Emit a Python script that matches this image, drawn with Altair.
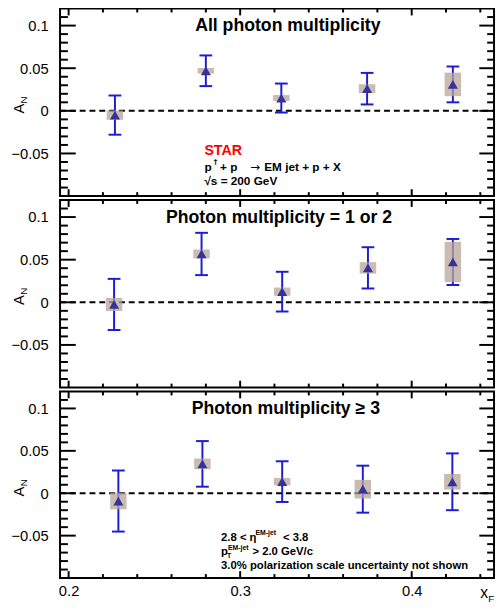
import altair as alt
import pandas as pd

# ---------------- data ----------------
PANEL_TITLES = ["All photon multiplicity", "Photon multiplicity = 1 or 2", "Photon multiplicity \u2265 3"]

XF = [
    [0.227, 0.280, 0.324, 0.374, 0.424],
    [0.2265, 0.2775, 0.3245, 0.3745, 0.424],
    [0.229, 0.278, 0.3245, 0.3715, 0.4237],
]
AN = [
    [-0.005, 0.047, 0.015, 0.026, 0.031],
    [-0.0025, 0.0567, 0.0125, 0.0404, 0.0473],
    [-0.0092, 0.0346, 0.0137, 0.0048, 0.0135],
]
STAT = [
    [0.023, 0.018, 0.017, 0.0185, 0.021],
    [0.030, 0.0248, 0.0233, 0.0242, 0.027],
    [0.036, 0.0269, 0.024, 0.0277, 0.0335],
]
SYS = [
    [0.0055, 0.0033, 0.0035, 0.0052, 0.0138],
    [0.0077, 0.0052, 0.0048, 0.0067, 0.0237],
    [0.0098, 0.0063, 0.0044, 0.011, 0.0092],
]

Y_MAJOR = [-0.05, 0.0, 0.05, 0.1]
Y_MINOR = [-0.09, -0.08, -0.07, -0.06, -0.04, -0.03, -0.02, -0.01,
           0.01, 0.02, 0.03, 0.04, 0.06, 0.07, 0.08, 0.09, 0.11]
X_MAJOR = [0.2, 0.3, 0.4]
X_MINOR = [0.22, 0.24, 0.26, 0.28, 0.32, 0.34, 0.36, 0.38, 0.42, 0.44]

# ---------------- layout / style ----------------
FONT = "Liberation Sans"
W = 442
HEIGHTS = [191, 191, 190]
XDOM = [0.195, 0.448]
YDOM = [-0.1, 0.12]
BOX_HALF = 0.0048
BLUE = "#1c1cd6"
TRI = "#333399"
BOXC = "#b8a69a"
TITLE_X = [232, 223, 230]
PAD = {"left": 0, "top": -7, "right": 0, "bottom": 0}

xs = alt.Scale(domain=XDOM, nice=False, zero=False)
ys = alt.Scale(domain=YDOM, nice=False, zero=False)


def dummy():
    return pd.DataFrame({"a": [0]})


def txt(text, x, y, size, bold=True, color="black", align="left", angle=0, font=FONT):
    kw = dict(text=text, font=font, fontSize=size, fontWeight="bold" if bold else "normal",
              color=color, align=align, baseline="alphabetic")
    if angle:
        kw["angle"] = angle
    return alt.Chart(dummy()).mark_text(**kw).encode(x=alt.value(x), y=alt.value(y))


def panel(i):
    H = HEIGHTS[i]
    show_x = i == 2
    yaxis = alt.Axis(values=Y_MAJOR, ticks=False, tickSize=0, domain=False, grid=False,
                     labelFontSize=15, labelFont=FONT, labelColor="black", labelPadding=12,
                     title=None, labelExpr="format(datum.value, '')")
    if show_x:
        xaxis = alt.Axis(values=X_MAJOR, ticks=False, tickSize=0, domain=False, grid=False,
                         labelFontSize=15, labelFont=FONT, labelColor="black", labelPadding=6,
                         title=None, labelExpr="format(datum.value, '')")
    else:
        xaxis = None

    X = lambda f: alt.X(f, scale=xs, axis=xaxis)
    Y = lambda f: alt.Y(f, scale=ys, axis=yaxis)

    layers = []
    # invisible anchor fixing the left extent of the chart
    layers.append(alt.Chart(dummy()).mark_rule(strokeOpacity=0).encode(
        x=alt.value(-52), y=alt.value(50), y2=alt.value(60)))
    # inner ticks (ROOT style)
    for vals, ln in ((Y_MAJOR, 16), (Y_MINOR, 8)):
        d = pd.DataFrame({"v": vals})
        layers.append(alt.Chart(d).mark_rule(color="black", strokeWidth=2).encode(
            y=Y("v:Q"), x=alt.value(0), x2=alt.value(ln)))
        layers.append(alt.Chart(d).mark_rule(color="black", strokeWidth=2).encode(
            y=Y("v:Q"), x=alt.value(W - ln + 1), x2=alt.value(W)))
    for vals, ln in ((X_MAJOR, 7), (X_MINOR, 4)):
        d = pd.DataFrame({"v": vals})
        layers.append(alt.Chart(d).mark_rule(color="black", strokeWidth=2).encode(
            x=X("v:Q"), y=alt.value(H), y2=alt.value(H - ln)))
        layers.append(alt.Chart(d).mark_rule(color="black", strokeWidth=2).encode(
            x=X("v:Q"), y=alt.value(0), y2=alt.value(ln)))

    # zero line
    layers.append(alt.Chart(pd.DataFrame({"v": [0.0]})).mark_rule(
        color="black", strokeWidth=2, strokeDash=[6, 4]).encode(
        y=Y("v:Q"), x=alt.value(0), x2=alt.value(W)))

    df = pd.DataFrame({"xF": XF[i], "AN": AN[i], "stat": STAT[i], "sys": SYS[i]})
    base = alt.Chart(df).transform_calculate(
        lo="datum.AN - datum.stat", hi="datum.AN + datum.stat",
        slo="datum.AN - datum.sys", shi="datum.AN + datum.sys",
        xl=f"datum.xF - {BOX_HALF}", xr=f"datum.xF + {BOX_HALF}")

    layers.append(base.mark_rule(color=BLUE, strokeWidth=2).encode(
        x=X("xF:Q"), y=Y("lo:Q"), y2="hi:Q"))
    for f in ("lo:Q", "hi:Q"):
        layers.append(base.mark_tick(orient="horizontal", size=13, thickness=2, color=BLUE,
                                     opacity=1).encode(x=X("xF:Q"), y=Y(f)))
    layers.append(base.mark_rect(color=BOXC, opacity=0.75).encode(
        x=X("xl:Q"), x2="xr:Q", y=Y("slo:Q"), y2="shi:Q"))
    layers.append(base.mark_point(shape="triangle-up", filled=True, size=105, color=TRI,
                                  opacity=1).encode(x=X("xF:Q"), y=Y("AN:Q")))

    # panel title
    layers.append(txt(PANEL_TITLES[i], TITLE_X[i], 23, 18, align="center"))
    # A_N label
    layers.append(txt("A", -37, 102, 15, bold=False, align="center", angle=270))
    layers.append(txt("N", -34, 93, 10, bold=False, align="center", angle=270))

    if i == 0:
        layers.append(txt("STAR", 147, 149, 14.5, color="#ff0000"))
        layers.append(txt("p", 147, 165, 12))
        layers.append(txt("\u2191", 155, 159, 8, font="DejaVu Sans"))
        layers.append(txt("+ p", 163, 165, 12))
        layers.append(txt("\u2192", 194, 165, 12, bold=False, font="DejaVu Sans"))
        layers.append(txt("EM jet + p + X", 208, 165, 12))
        layers.append(txt("\u221as = 200 GeV", 147, 180, 12))
    if i == 2:
        layers.append(txt("2.8 < \u03b7", 164, 152, 11.5))
        layers.append(txt("EM-jet", 199, 146, 7))
        layers.append(txt("< 3.8", 227, 152, 11.5))
        layers.append(txt("p", 164, 167, 11.5))
        layers.append(txt("T", 170, 170, 7))
        layers.append(txt("EM-jet", 171, 161, 7))
        layers.append(txt("> 2.0 GeV/c", 196, 167, 11.5))
        layers.append(txt("3.0% polarization scale uncertainty not shown", 164, 181, 11.5))
        layers.append(txt("x", W - 14, H + 20, 16, bold=False))
        layers.append(txt("F", W - 6, H + 24, 10, bold=False))

    return alt.layer(*layers).properties(width=W, height=H)


chart = alt.vconcat(panel(0), panel(1), panel(2), spacing=0).properties(
    padding=PAD
).configure(
    background="white",
    padding=PAD,
    view=alt.ViewConfig(stroke="black", strokeWidth=2),
)

chart.save("out.html", embed_options={"renderer": "svg", "actions": False})
